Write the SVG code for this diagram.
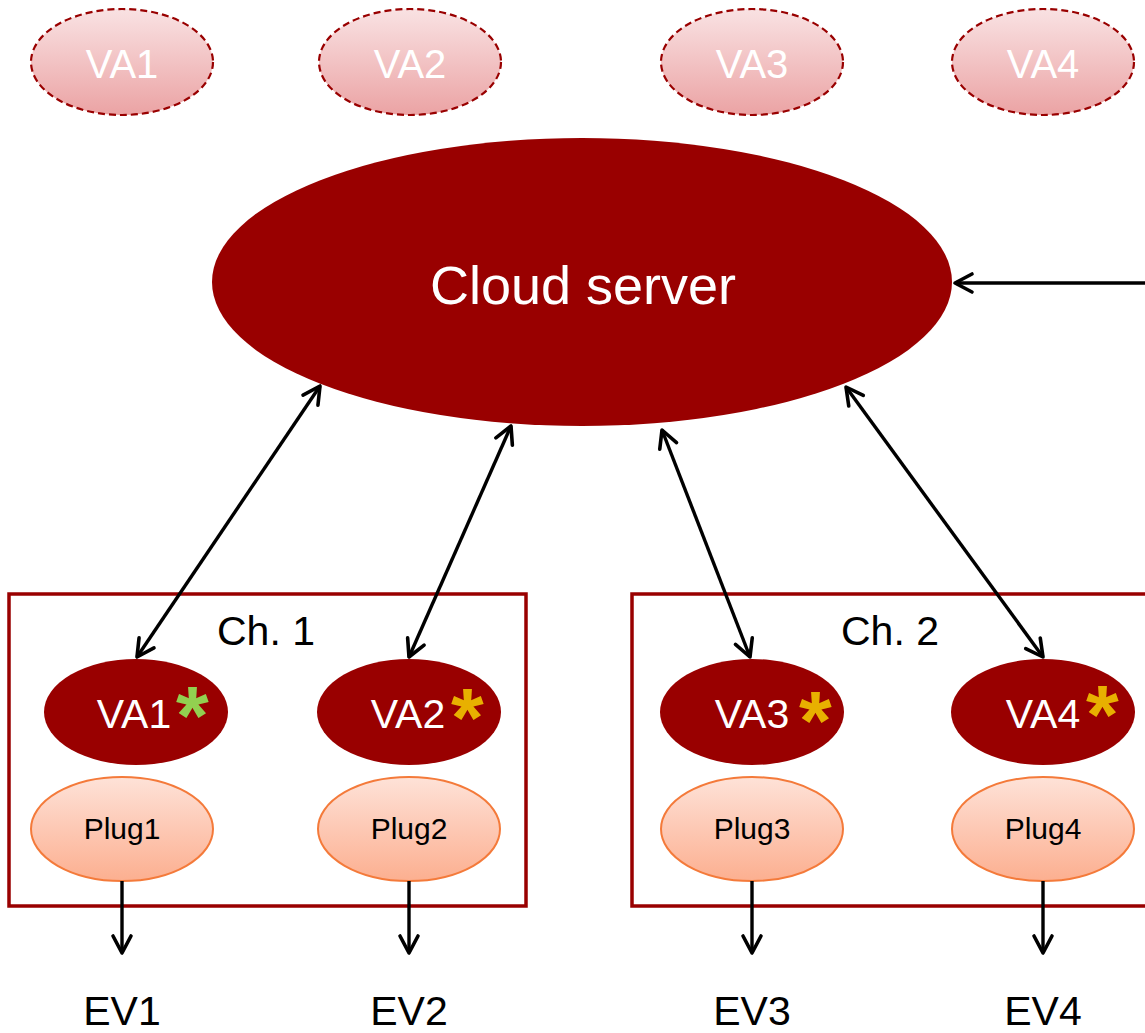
<svg xmlns="http://www.w3.org/2000/svg" width="1145" height="1033" viewBox="0 0 1145 1033">
<defs>
<linearGradient id="gTop" x1="0" y1="0" x2="0" y2="1">
<stop offset="0" stop-color="#F9E2E3"/>
<stop offset="1" stop-color="#EBA3A4"/>
</linearGradient>
<linearGradient id="gPlug" x1="0" y1="0" x2="0" y2="1">
<stop offset="0" stop-color="#FEE2D8"/>
<stop offset="1" stop-color="#FCAF90"/>
</linearGradient>
<marker id="ah" viewBox="0 0 24 24" refX="21" refY="12" markerWidth="24" markerHeight="24" markerUnits="userSpaceOnUse" orient="auto-start-reverse">
<path d="M4,3 L21,12 L4,21" fill="none" stroke="#000" stroke-width="3.6" stroke-linecap="round" stroke-linejoin="round"/>
</marker>
<style>
.top{fill:url(#gTop);stroke:#990000;stroke-width:2.2;stroke-dasharray:7,4}
.va{fill:#990000}
.plug{fill:url(#gPlug);stroke:#F47A3A;stroke-width:2}
.box{fill:none;stroke:#990000;stroke-width:3.5}
.wt{font-family:"Liberation Sans",Arial,sans-serif;fill:#fff;text-anchor:middle}
.bt{font-family:"Liberation Sans",Arial,sans-serif;fill:#000;text-anchor:middle}
.ln{stroke:#000;stroke-width:3.4;fill:none}
.star{font-family:"Liberation Sans",Arial,sans-serif;font-weight:bold;font-size:84px}
</style>
</defs>
<rect width="1145" height="1033" fill="#fff"/>

<g id="top-va1"><ellipse class="top" cx="122" cy="62" rx="91" ry="53"/><text class="wt" x="122" y="78" font-size="40">VA1</text></g>
<g id="top-va2"><ellipse class="top" cx="410" cy="62" rx="91" ry="53"/><text class="wt" x="410" y="78" font-size="40">VA2</text></g>
<g id="top-va3"><ellipse class="top" cx="752" cy="62" rx="91" ry="53"/><text class="wt" x="752" y="78" font-size="40">VA3</text></g>
<g id="top-va4"><ellipse class="top" cx="1043" cy="62" rx="91" ry="53"/><text class="wt" x="1043" y="78" font-size="40">VA4</text></g>

<g id="cloud"><ellipse class="va" cx="582" cy="282" rx="370" ry="144"/><text class="wt" x="583" y="304" font-size="54">Cloud server</text></g>

<g id="ch1"><rect class="box" x="9" y="594" width="517" height="312"/><text class="bt" x="266" y="645" font-size="41">Ch. 1</text></g>
<g id="ch2"><rect class="box" x="632" y="594" width="530" height="312"/><text class="bt" x="890" y="645" font-size="41">Ch. 2</text></g>

<g id="va1"><ellipse class="va" cx="136" cy="712" rx="92" ry="53"/><text class="wt" x="134" y="728" font-size="41">VA1</text><text class="star" x="176" y="745" fill="#92D050">*</text></g>
<g id="va2"><ellipse class="va" cx="409" cy="712" rx="92" ry="53"/><text class="wt" x="408" y="728" font-size="41">VA2</text><text class="star" x="451" y="747" fill="#E8B000">*</text></g>
<g id="va3"><ellipse class="va" cx="752" cy="712" rx="92" ry="53"/><text class="wt" x="752" y="728" font-size="41">VA3</text><text class="star" x="799" y="750" fill="#E8B000">*</text></g>
<g id="va4"><ellipse class="va" cx="1043" cy="712" rx="92" ry="53"/><text class="wt" x="1043" y="728" font-size="41">VA4</text><text class="star" x="1086" y="744" fill="#E8B000">*</text></g>

<g id="plug1"><ellipse class="plug" cx="122" cy="829" rx="91" ry="52"/><text class="bt" x="122" y="839" font-size="30">Plug1</text></g>
<g id="plug2"><ellipse class="plug" cx="409" cy="829" rx="91" ry="52"/><text class="bt" x="409" y="839" font-size="30">Plug2</text></g>
<g id="plug3"><ellipse class="plug" cx="752" cy="829" rx="91" ry="52"/><text class="bt" x="752" y="839" font-size="30">Plug3</text></g>
<g id="plug4"><ellipse class="plug" cx="1043" cy="829" rx="91" ry="52"/><text class="bt" x="1043" y="839" font-size="30">Plug4</text></g>

<g id="ev1"><text class="bt" x="122" y="1025" font-size="41">EV1</text></g>
<g id="ev2"><text class="bt" x="409" y="1025" font-size="41">EV2</text></g>
<g id="ev3"><text class="bt" x="752" y="1025" font-size="41">EV3</text></g>
<g id="ev4"><text class="bt" x="1043" y="1025" font-size="41">EV4</text></g>

<g id="connectors">
<line class="ln" x1="320" y1="386" x2="137" y2="657" marker-start="url(#ah)" marker-end="url(#ah)"/>
<line class="ln" x1="511" y1="426" x2="409" y2="657" marker-start="url(#ah)" marker-end="url(#ah)"/>
<line class="ln" x1="662" y1="430" x2="750" y2="657" marker-start="url(#ah)" marker-end="url(#ah)"/>
<line class="ln" x1="846" y1="387" x2="1043" y2="657" marker-start="url(#ah)" marker-end="url(#ah)"/>
<line class="ln" x1="1145" y1="283" x2="955" y2="283" marker-end="url(#ah)"/>
<line class="ln" x1="122" y1="881" x2="122" y2="953" marker-end="url(#ah)"/>
<line class="ln" x1="409" y1="881" x2="409" y2="953" marker-end="url(#ah)"/>
<line class="ln" x1="752" y1="881" x2="752" y2="953" marker-end="url(#ah)"/>
<line class="ln" x1="1043" y1="881" x2="1043" y2="953" marker-end="url(#ah)"/>
</g>
</svg>
